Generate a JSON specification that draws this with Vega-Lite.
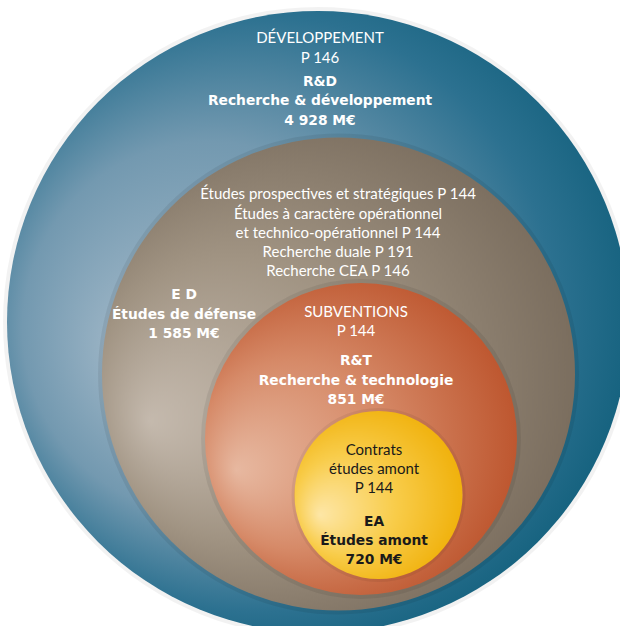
{
  "$schema": "https://vega.github.io/schema/vega-lite/v6.json",
  "width": 620,
  "height": 626,
  "padding": 0,
  "autosize": {"type": "none"},
  "background": "#ffffff",
  "config": {"view": {"stroke": null}},
  "datasets": {
    "circles": [
      {"circle": "R&D", "cx": 318, "cy": 322, "r": 311, "budget": 4928},
      {"circle": "ED", "cx": 338.5, "cy": 374, "r": 236.5, "budget": 1585},
      {"circle": "R&T", "cx": 361, "cy": 439, "r": 156, "budget": 851},
      {"circle": "EA", "cx": 378.5, "cy": 495, "r": 84, "budget": 720}
    ],
    "labels": [
      {"circle": "R&D", "kind": "program", "line": "DÉVELOPPEMENT", "lx": 320, "ly": 38},
      {"circle": "R&D", "kind": "program", "line": "P 146", "lx": 320, "ly": 58},
      {"circle": "R&D", "kind": "total", "line": "R&D", "lx": 320, "ly": 82},
      {"circle": "R&D", "kind": "total", "line": "Recherche & développement", "lx": 320, "ly": 101},
      {"circle": "R&D", "kind": "total", "line": "4 928 M€", "lx": 320, "ly": 121},
      {"circle": "ED", "kind": "program", "line": "Études prospectives et stratégiques P 144", "lx": 338, "ly": 194},
      {"circle": "ED", "kind": "program", "line": "Études à caractère opérationnel", "lx": 338, "ly": 213.5},
      {"circle": "ED", "kind": "program", "line": "et technico-opérationnel P 144", "lx": 338, "ly": 232.5},
      {"circle": "ED", "kind": "program", "line": "Recherche duale P 191", "lx": 338, "ly": 252},
      {"circle": "ED", "kind": "program", "line": "Recherche CEA P 146", "lx": 338, "ly": 271},
      {"circle": "ED", "kind": "total", "line": "E D", "lx": 184, "ly": 295},
      {"circle": "ED", "kind": "total", "line": "Études de défense", "lx": 184, "ly": 315},
      {"circle": "ED", "kind": "total", "line": "1 585 M€", "lx": 184, "ly": 334},
      {"circle": "R&T", "kind": "program", "line": "SUBVENTIONS", "lx": 356, "ly": 311.5},
      {"circle": "R&T", "kind": "program", "line": "P 144", "lx": 356, "ly": 331},
      {"circle": "R&T", "kind": "total", "line": "R&T", "lx": 356, "ly": 361},
      {"circle": "R&T", "kind": "total", "line": "Recherche & technologie", "lx": 356, "ly": 381},
      {"circle": "R&T", "kind": "total", "line": "851 M€", "lx": 356, "ly": 399.5},
      {"circle": "EA", "kind": "program", "line": "Contrats", "lx": 374, "ly": 449.5},
      {"circle": "EA", "kind": "program", "line": "études amont", "lx": 374, "ly": 468.5},
      {"circle": "EA", "kind": "program", "line": "P 144", "lx": 374, "ly": 487.5},
      {"circle": "EA", "kind": "total", "line": "EA", "lx": 374, "ly": 522},
      {"circle": "EA", "kind": "total", "line": "Études amont", "lx": 374, "ly": 541},
      {"circle": "EA", "kind": "total", "line": "720 M€", "lx": 374, "ly": 559.5}
    ]
  },
  "encoding": {
    "x": {"field": "cx", "type": "quantitative", "scale": {"domain": [0, 620], "nice": false, "zero": false}, "axis": null},
    "y": {"field": "cy", "type": "quantitative", "scale": {"domain": [0, 626], "nice": false, "zero": false, "reverse": true}, "axis": null},
    "size": {"field": "r", "type": "quantitative", "scale": {"type": "pow", "exponent": 2, "domain": [0, 100], "range": [0, 40000]}, "legend": null}
  },
  "layer": [
    {
      "data": {"name": "circles"},
      "transform": [{"filter": "datum.circle === 'R&D'"}],
      "mark": {"type": "point", "filled": false, "fill": null, "opacity": 1, "stroke": "#000000", "strokeOpacity": 0.05, "strokeWidth": 8}
    },
    {
      "data": {"name": "circles"},
      "transform": [{"filter": "datum.circle === 'R&D'"}],
      "mark": {"type": "circle", "opacity": 1, "fillOpacity": 1, "strokeWidth": 0,
        "fill": {"gradient": "radial", "x1": 0.2, "y1": 0.55, "r1": 0, "x2": 0.45, "y2": 0.47, "r2": 0.6,
          "stops": [{"offset": 0, "color": "#a3b9c9"}, {"offset": 0.5, "color": "#7399b0"}, {"offset": 0.8, "color": "#2c7190"}, {"offset": 1, "color": "#0f5e7a"}]}}
    },
    {
      "data": {"name": "circles"},
      "transform": [{"filter": "datum.circle === 'ED'"}],
      "mark": {"type": "point", "filled": false, "fill": null, "opacity": 1, "stroke": "#000000", "strokeOpacity": 0.07, "strokeWidth": 8}
    },
    {
      "data": {"name": "circles"},
      "transform": [{"filter": "datum.circle === 'ED'"}],
      "mark": {"type": "circle", "opacity": 1, "fillOpacity": 1, "strokeWidth": 0,
        "fill": {"gradient": "radial", "x1": 0.1, "y1": 0.6, "r1": 0, "x2": 0.45, "y2": 0.5, "r2": 0.6,
          "stops": [{"offset": 0, "color": "#c4b9ad"}, {"offset": 0.5, "color": "#a09382"}, {"offset": 1, "color": "#76695a"}]}}
    },
    {
      "data": {"name": "circles"},
      "transform": [{"filter": "datum.circle === 'R&T'"}],
      "mark": {"type": "point", "filled": false, "fill": null, "opacity": 1, "stroke": "#000000", "strokeOpacity": 0.07, "strokeWidth": 8}
    },
    {
      "data": {"name": "circles"},
      "transform": [{"filter": "datum.circle === 'R&T'"}],
      "mark": {"type": "circle", "opacity": 1, "fillOpacity": 1, "strokeWidth": 0,
        "fill": {"gradient": "radial", "x1": 0.1, "y1": 0.6, "r1": 0, "x2": 0.45, "y2": 0.5, "r2": 0.6,
          "stops": [{"offset": 0, "color": "#e7b8a0"}, {"offset": 0.5, "color": "#d68a68"}, {"offset": 1, "color": "#bb5129"}]}}
    },
    {
      "data": {"name": "circles"},
      "transform": [{"filter": "datum.circle === 'EA'"}],
      "mark": {"type": "point", "filled": false, "fill": null, "opacity": 1, "stroke": "#000000", "strokeOpacity": 0.06, "strokeWidth": 6}
    },
    {
      "data": {"name": "circles"},
      "transform": [{"filter": "datum.circle === 'EA'"}],
      "mark": {"type": "circle", "opacity": 1, "fillOpacity": 1, "strokeWidth": 0,
        "fill": {"gradient": "radial", "x1": 0.15, "y1": 0.62, "r1": 0, "x2": 0.45, "y2": 0.5, "r2": 0.6,
          "stops": [{"offset": 0, "color": "#fde6a6"}, {"offset": 0.5, "color": "#f8cc4a"}, {"offset": 1, "color": "#efae05"}]}}
    },
    {
      "data": {"name": "labels"},
      "transform": [{"filter": "datum.kind === 'program'"}],
      "mark": {"type": "text", "font": "Lato", "fontSize": 15, "fontWeight": "normal", "align": "center", "baseline": "middle"},
      "encoding": {
        "x": {"field": "lx", "type": "quantitative"},
        "y": {"field": "ly", "type": "quantitative"},
        "size": null,
        "text": {"field": "line", "type": "nominal"},
        "color": {"field": "circle", "type": "nominal", "scale": {"domain": ["R&D", "ED", "R&T", "EA"], "range": ["#ffffff", "#ffffff", "#ffffff", "#1a1a1a"]}, "legend": null}
      }
    },
    {
      "data": {"name": "labels"},
      "transform": [{"filter": "datum.kind === 'total'"}],
      "mark": {"type": "text", "font": "DejaVu Sans", "fontSize": 13.8, "fontWeight": "bold", "align": "center", "baseline": "middle"},
      "encoding": {
        "x": {"field": "lx", "type": "quantitative"},
        "y": {"field": "ly", "type": "quantitative"},
        "size": null,
        "text": {"field": "line", "type": "nominal"},
        "color": {"field": "circle", "type": "nominal", "legend": null}
      }
    }
  ]
}
